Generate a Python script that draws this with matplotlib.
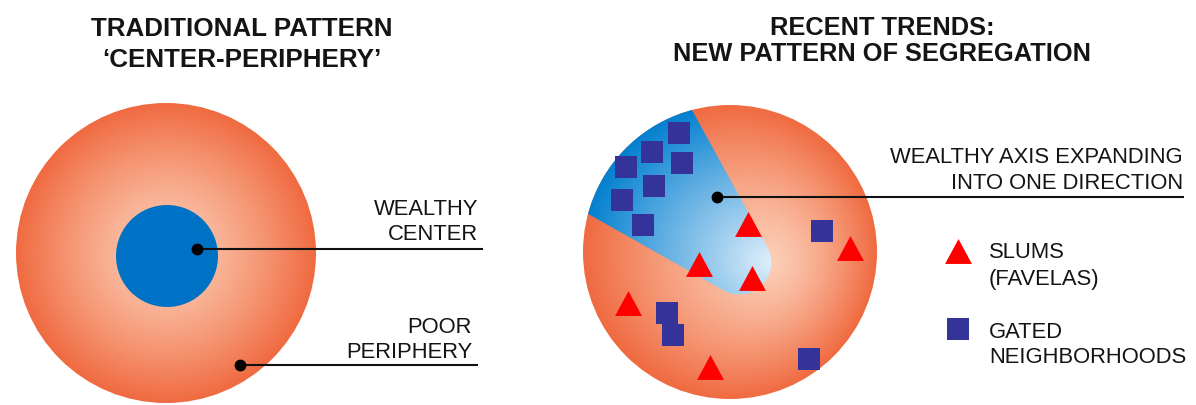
import numpy as np
import matplotlib
matplotlib.use("Agg")
import matplotlib.pyplot as plt
from matplotlib import patches

plt.rcParams['font.family'] = ['Liberation Sans', 'DejaVu Sans']

# ---- data (pixel coordinates of the diagram, y downwards) ----
left_titles = ["TRADITIONAL PATTERN", "\u2018CENTER-PERIPHERY\u2019"]
right_titles = ["RECENT TRENDS:", "NEW PATTERN OF SEGREGATION"]

square_x = [679, 652, 682, 626, 654, 622, 643, 822, 667, 673, 809]
square_y = [133, 152, 163, 167, 186, 200, 225, 231, 313, 335, 359]
triangle_x = [748, 850, 699, 752, 628, 710]
triangle_y = [224, 248, 264, 278, 303, 367]

legend_labels = [["SLUMS", "(FAVELAS)"], ["GATED", "NEIGHBORHOODS"]]

W, H = 1196, 405
fig = plt.figure(figsize=(W / 100, H / 100), dpi=100)
ax = fig.add_axes([0, 0, 1, 1])
ax.set_xlim(0, W)
ax.set_ylim(H, 0)
ax.axis('off')

LIGHT_OR = np.array([252, 206, 182]) / 255
DARK_OR = np.array([240, 106, 64]) / 255
LIGHT_BL = np.array([224, 239, 251]) / 255
DARK_BL = np.array([4, 128, 208]) / 255

TRI = [(-0.54, -0.5), (0.54, -0.5), (0.0, 0.5), (-0.54, -0.5)]


def focal_t(cx, cy, R, fx, fy, n=500):
    xs = np.linspace(cx - R, cx + R, n)
    ys = np.linspace(cy - R, cy + R, n)
    X, Y = np.meshgrid(xs, ys)
    dx, dy = X - fx, Y - fy
    gx, gy = fx - cx, fy - cy
    dd = dx * dx + dy * dy
    gd = gx * dx + gy * dy
    gg = gx * gx + gy * gy
    with np.errstate(divide='ignore', invalid='ignore'):
        lam = (-gd + np.sqrt(gd * gd - dd * (gg - R * R))) / dd
        t = 1.0 / lam
    t = np.nan_to_num(t, nan=0.0, posinf=0.0)
    return np.clip(t, 0, 1)


def grad_image(t, c0, c1, p=1.3):
    s = t[..., None] ** p
    return c0 * (1 - s) + c1 * s


def draw_gradient_disc(cx, cy, R, fx, fy, c0, c1, p=1.3, clip=None):
    t = focal_t(cx, cy, R, fx, fy)
    img = grad_image(t, c0, c1, p)
    im = ax.imshow(img, extent=(cx - R, cx + R, cy + R, cy - R),
                   origin='upper', interpolation='bilinear', zorder=1)
    if clip is None:
        clip = patches.Circle((cx, cy), R, transform=ax.transData)
    im.set_clip_path(clip)
    return im


# ---- left diagram ----
lcx, lcy, lR = 166, 253, 150
draw_gradient_disc(lcx, lcy, lR, lcx, lcy, LIGHT_OR, DARK_OR, p=1.3)
ax.add_patch(patches.Circle((167, 256), 51, facecolor='#0072C6',
                            edgecolor='none', zorder=2))

# ---- right diagram ----
rcx, rcy, rR = 730, 252, 147
fx, fy = 772, 262
draw_gradient_disc(rcx, rcy, rR, fx, fy, LIGHT_OR, DARK_OR, p=1.3)

# wedge geometry
A1 = np.array([692.0, 110.0]); u1 = np.array([73.0, 133.0]); u1 /= np.linalg.norm(u1)
A2 = np.array([590.0, 215.0]); u2 = np.array([133.0, 75.0]); u2 /= np.linalg.norm(u2)
Ct = np.array([740.0, 262.0])
C = np.array([rcx, rcy], dtype=float)


def circ_intersect(A, u):
    g = A - C
    b = g @ u
    c = g @ g - rR * rR
    s = -b - np.sqrt(b * b - c)
    return A + s * u


E1 = circ_intersect(A1, u1)
E2 = circ_intersect(A2, u2)
T1 = A1 + ((Ct - A1) @ u1) * u1
T2 = A2 + ((Ct - A2) @ u2) * u2
a1 = np.arctan2(*(T1 - Ct)[::-1])
a2 = np.arctan2(*(T2 - Ct)[::-1])
r1 = np.linalg.norm(T1 - Ct)
r2 = np.linalg.norm(T2 - Ct)
if a2 < a1:
    a2 += 2 * np.pi
angs = np.linspace(a1, a2, 60)
rads = np.linspace(r1, r2, 60)
tip = np.column_stack([Ct[0] + rads * np.cos(angs), Ct[1] + rads * np.sin(angs)])
b2 = np.arctan2(E2[1] - rcy, E2[0] - rcx) % (2 * np.pi)
b1 = np.arctan2(E1[1] - rcy, E1[0] - rcx) % (2 * np.pi)
if b1 < b2:
    b1 += 2 * np.pi
barc = np.linspace(b2, b1, 80)
outer = np.column_stack([rcx + rR * np.cos(barc), rcy + rR * np.sin(barc)])
poly = np.vstack([E1[None], T1[None], tip, T2[None], E2[None], outer])
wedge = patches.Polygon(poly, closed=True, transform=ax.transData)
draw_gradient_disc(rcx, rcy, rR, fx, fy, LIGHT_BL, DARK_BL, p=1.0, clip=wedge)

# markers
ax.scatter(square_x, square_y, marker='s', s=250, color='#333399',
           linewidths=0, zorder=4)
ax.scatter(triangle_x, triangle_y, marker=TRI, s=375, color='#FF0000',
           linewidths=0, zorder=4)

# ---- leader lines ----
TXT = '#141414'
leaders = [((197, 249), 483), ((240, 365), 478), ((717, 197), 1184)]
for (px, py), xe in leaders:
    ax.plot([px, xe], [py, py], color='#111111', lw=1.5, zorder=5,
            solid_capstyle='butt')
    ax.plot([px], [py], 'o', color='#000000', ms=7.5, zorder=6)

# ---- texts ----
LF = 15.8
for txt, y in zip(left_titles, [36, 67]):
    ax.text(242, y, txt, ha='center', va='baseline', fontsize=18.7,
            fontweight='bold', color=TXT)
for txt, y in zip(right_titles, [35, 61]):
    ax.text(882, y, txt, ha='center', va='baseline', fontsize=18.3,
            fontweight='bold', color=TXT)

ax.text(478, 215, "WEALTHY", ha='right', va='baseline', fontsize=LF, color=TXT)
ax.text(478, 240, "CENTER", ha='right', va='baseline', fontsize=LF, color=TXT)
ax.text(472, 333, "POOR", ha='right', va='baseline', fontsize=LF, color=TXT)
ax.text(472, 358, "PERIPHERY", ha='right', va='baseline', fontsize=LF, color=TXT)
ax.text(1183, 163, "WEALTHY AXIS EXPANDING", ha='right', va='baseline',
        fontsize=LF, color=TXT)
ax.text(1183, 189, "INTO ONE DIRECTION", ha='right', va='baseline',
        fontsize=LF, color=TXT)

# legend
ax.scatter([958], [251], marker=TRI, s=375, color='#FF0000', linewidths=0, zorder=4)
ax.scatter([958], [329], marker='s', s=250, color='#333399', linewidths=0, zorder=4)
for (l1, l2), (y1, y2) in zip(legend_labels, [(258, 285), (338, 363)]):
    ax.text(989, y1, l1, ha='left', va='baseline', fontsize=LF, color=TXT)
    ax.text(989, y2, l2, ha='left', va='baseline', fontsize=LF, color=TXT)

fig.savefig('out.png', dpi=100, facecolor='white')
